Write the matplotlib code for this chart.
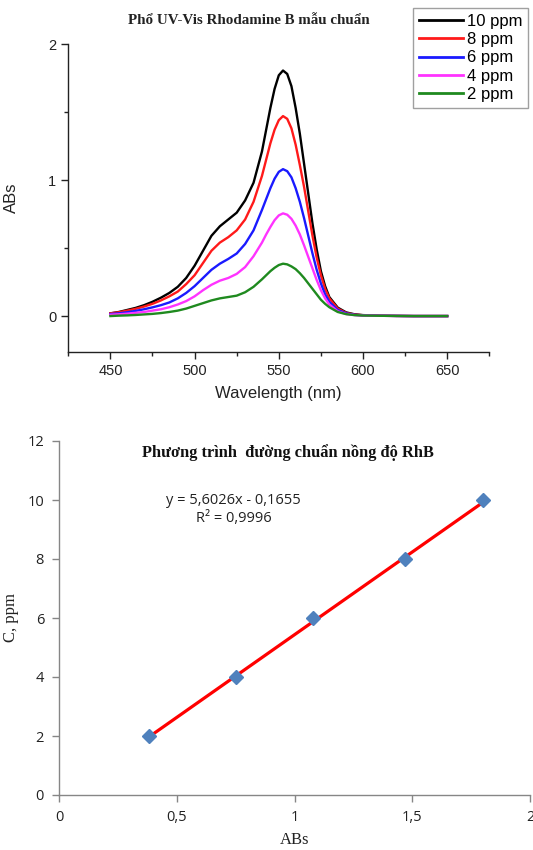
import numpy as np
import matplotlib
matplotlib.use("Agg")
import matplotlib.pyplot as plt
from matplotlib.ticker import MultipleLocator, FixedLocator

# ---- UV-Vis spectra ----
wl = [450, 455, 460, 465, 470, 475, 480, 485, 490, 495, 500, 505, 510, 515, 520,
      525, 530, 535, 540, 542.5, 545, 547.5, 550, 552.5, 555, 557.5, 560, 562.5,
      565, 567.5, 570, 572.5, 575, 577.5, 580, 585, 590,
      595, 600, 610, 620, 630, 640, 650]

abs_10 = [0.02, 0.03, 0.045, 0.06, 0.08, 0.105, 0.135, 0.17, 0.215, 0.28, 0.37, 0.48, 0.59, 0.66, 0.71,
          0.76, 0.85, 0.98, 1.21, 1.37, 1.53, 1.67, 1.77, 1.805, 1.78, 1.69, 1.53, 1.34,
          1.12, 0.90, 0.68, 0.49, 0.33, 0.22, 0.14, 0.062, 0.027,
          0.013, 0.007, 0.003, 0.001, 0.0, 0.0, 0.0]
abs_8 = [0.02, 0.028, 0.04, 0.053, 0.07, 0.09, 0.115, 0.145, 0.18, 0.235, 0.30, 0.39, 0.48, 0.54, 0.58,
         0.63, 0.71, 0.84, 1.03, 1.15, 1.27, 1.37, 1.44, 1.47, 1.45, 1.38, 1.26, 1.11,
         0.95, 0.77, 0.59, 0.43, 0.30, 0.20, 0.13, 0.055, 0.023,
         0.011, 0.006, 0.002, 0.001, 0.0, 0.0, 0.0]
abs_6 = [0.015, 0.02, 0.028, 0.038, 0.05, 0.064, 0.08, 0.10, 0.13, 0.17, 0.22, 0.28, 0.34, 0.385, 0.42,
         0.46, 0.53, 0.63, 0.78, 0.86, 0.94, 1.01, 1.06, 1.08, 1.065, 1.02, 0.94, 0.84,
         0.72, 0.59, 0.46, 0.34, 0.24, 0.16, 0.105, 0.045, 0.02,
         0.009, 0.005, 0.002, 0.001, 0.0, 0.0, 0.0]
abs_4 = [0.01, 0.013, 0.018, 0.024, 0.03, 0.04, 0.05, 0.065, 0.085, 0.11, 0.145, 0.19, 0.23, 0.26, 0.28,
         0.31, 0.36, 0.44, 0.54, 0.60, 0.655, 0.705, 0.74, 0.755, 0.745, 0.715, 0.665, 0.60,
         0.52, 0.435, 0.35, 0.265, 0.19, 0.13, 0.085, 0.035, 0.015,
         0.007, 0.004, 0.002, 0.001, 0.0, 0.0, 0.0]
abs_2 = [0.0, 0.003, 0.005, 0.008, 0.012, 0.016, 0.022, 0.03, 0.04, 0.055, 0.075, 0.095, 0.115, 0.13, 0.14,
         0.15, 0.175, 0.215, 0.27, 0.30, 0.33, 0.355, 0.375, 0.385, 0.38, 0.365, 0.345, 0.315,
         0.28, 0.24, 0.20, 0.16, 0.12, 0.09, 0.065, 0.03, 0.014,
         0.007, 0.004, 0.002, 0.001, 0.0, 0.0, 0.0]

spectra = [("10 ppm", abs_10, "black"),
           ("8 ppm", abs_8, "#ff1a1a"),
           ("6 ppm", abs_6, "#1a1aff"),
           ("4 ppm", abs_4, "#ff33ff"),
           ("2 ppm", abs_2, "#1f8a1f")]

# ---- calibration curve ----
cal_abs = [0.38, 0.75, 1.08, 1.47, 1.80]
cal_conc = [2, 4, 6, 8, 10]
slope = 5.6026
intercept = -0.1655

fig = plt.figure(figsize=(5.33, 8.5), dpi=100)

# ================= top: spectra =================
ax1 = fig.add_axes([68.3 / 533, 1 - 351.7 / 850, (489.3 - 68.3) / 533, (351.7 - 44) / 850])
for lab, ys, col in spectra:
    ax1.plot(wl, ys, color=col, lw=1.7, label=lab, solid_joinstyle="round")

ax1.set_xlim(425, 675)
ax1.set_ylim(-0.262, 2.0)
ax1.spines["top"].set_visible(False)
ax1.spines["right"].set_visible(False)
for s in ["left", "bottom"]:
    ax1.spines[s].set_color("#222222")
    ax1.spines[s].set_linewidth(1.0)
ax1.xaxis.set_major_locator(FixedLocator([450, 500, 550, 600, 650]))
ax1.xaxis.set_minor_locator(FixedLocator([425, 475, 525, 575, 625, 675]))
ax1.yaxis.set_major_locator(FixedLocator([0, 1, 2]))
ax1.yaxis.set_minor_locator(FixedLocator([0.5, 1.5]))
ax1.tick_params(which="major", direction="out", length=5, width=1, color="#222222",
                labelsize=10.5, labelcolor="#222222")
ax1.tick_params(which="minor", direction="out", length=3, width=1, color="#222222")
for t in ax1.get_xticklabels() + ax1.get_yticklabels():
    t.set_family("Liberation Sans")
ax1.set_xlabel("Wavelength (nm)", fontsize=12, family="Liberation Sans", color="#222222", labelpad=6)
ax1.set_ylabel("ABs", fontsize=12, family="Liberation Sans", color="#222222")
ax1.yaxis.set_label_coords(-0.117, 0.5)

fig.text(249 / 533, 1 - 20 / 850, "Phổ UV-Vis Rhodamine B mẫu chuẩn", ha="center", va="center",
         fontsize=10.8, fontweight="bold", family="Liberation Serif", color="#222222")

leg = ax1.legend(loc="upper right", bbox_to_anchor=(528 / 533, 1 - 8 / 850),
                 bbox_transform=fig.transFigure, frameon=True, fancybox=False,
                 handlelength=2.6, handletextpad=0.25, labelspacing=0.2,
                 borderpad=0.35, borderaxespad=0, prop={"family": "Liberation Sans", "size": 12})
leg.get_frame().set_edgecolor("#888888")
leg.get_frame().set_linewidth(1.0)
for line in leg.get_lines():
    line.set_linewidth(2.0)

# ================= bottom: calibration =================
ax2 = fig.add_axes([59.3 / 533, 1 - 795 / 850, (530 - 59.3) / 533, (795 - 441) / 850])
xfit = np.array([cal_abs[0], cal_abs[-1]])
ax2.plot(xfit, slope * xfit + intercept, color="red", lw=2.3, zorder=2)
ax2.plot(cal_abs, cal_conc, linestyle="none", marker="D", markersize=7,
         color="#4f81bd", markeredgecolor="#4f81bd", zorder=3)

ax2.set_xlim(0, 2)
ax2.set_ylim(0, 12)
ax2.spines["top"].set_visible(False)
ax2.spines["right"].set_visible(False)
for s in ["left", "bottom"]:
    ax2.spines[s].set_color("#868686")
    ax2.spines[s].set_linewidth(1.0)
ax2.yaxis.set_major_locator(MultipleLocator(2))
ax2.set_xticks([0, 0.5, 1, 1.5, 2])
ax2.set_xticklabels(["0", "0,5", "1", "1,5", "2"])
ax2.tick_params(direction="out", length=5, width=1, color="#868686",
                labelsize=10.5, labelcolor="#222222", pad=6)
for t in ax2.get_xticklabels() + ax2.get_yticklabels():
    t.set_family("Open Sans")
ax2.set_xlabel("ABs", fontsize=12, family="Liberation Serif", color="#222222", labelpad=5)
ax2.set_ylabel("C, ppm", fontsize=12, family="Liberation Serif", color="#222222")
ax2.yaxis.set_label_coords(-0.085, 0.5)

fig.text(288 / 533, 1 - 453 / 850, "Phương trình  đường chuẩn nồng độ RhB", ha="center",
         va="center", fontsize=11.8, fontweight="bold", family="Liberation Serif", color="#111111")
ax2.text(0.37, 0.833, "y = 5,6026x - 0,1655", transform=ax2.transAxes, ha="center", va="center",
         fontsize=10.5, family="Open Sans", color="#222222")
ax2.text(0.37, 0.78, "R² = 0,9996", transform=ax2.transAxes, ha="center", va="center",
         fontsize=10.5, family="Open Sans", color="#222222")

fig.savefig("out.png", dpi=100)
